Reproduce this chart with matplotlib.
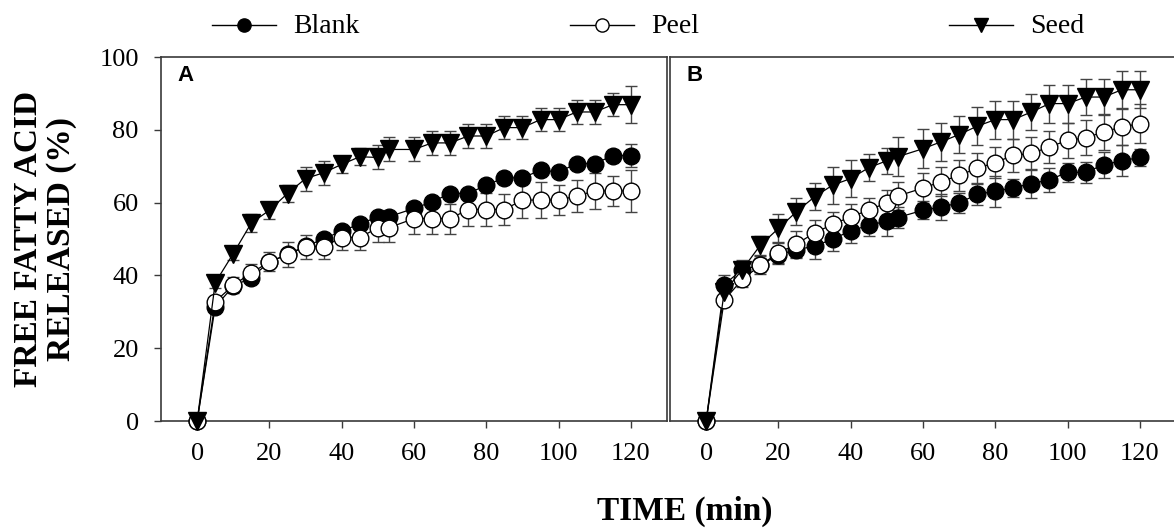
import matplotlib
matplotlib.use("Agg")
import matplotlib.pyplot as plt
from matplotlib.lines import Line2D

plt.rcParams['font.family'] = ['Liberation Serif', 'DejaVu Serif']

# ---------------- data ----------------
time = [0, 5, 10, 15, 20, 25, 30, 35, 40, 45, 50, 53, 60, 65, 70, 75, 80, 85, 90, 95, 100, 105, 110, 115, 120]

a_blank = [0, 31.4, 37.0, 39.4, 43.7, 45.8, 48.0, 50.0, 52.2, 54.1, 56.1, 56.1, 58.4, 60.2, 62.5, 62.5,
           64.8, 66.8, 66.8, 68.9, 68.4, 70.7, 70.7, 72.9, 72.9]
a_blank_err = [0, 1.0, 1.0, 1.0, 1.0, 1.0, 1.0, 1.0, 1.0, 1.0, 1.2, 1.2, 1.2, 1.2, 1.2, 1.2,
               1.2, 1.2, 1.2, 1.2, 1.2, 1.5, 1.5, 1.5, 3.1]
a_peel = [0, 32.8, 37.3, 40.7, 43.7, 45.7, 47.9, 47.9, 50.4, 50.4, 53.1, 53.1, 55.6, 55.6, 55.6, 58.1,
          58.1, 58.1, 60.7, 60.7, 60.7, 61.8, 63.2, 63.2, 63.2]
a_peel_err = [0, 1.0, 2.2, 2.5, 2.6, 3.4, 3.3, 3.3, 3.3, 3.3, 3.9, 3.9, 4.1, 4.1, 4.1, 4.5,
              4.5, 4.2, 4.9, 4.9, 4.0, 4.5, 5.0, 4.2, 5.7]
a_seed = [0, 38.0, 46.0, 54.4, 57.9, 62.5, 66.6, 68.2, 70.5, 72.6, 72.4, 74.6, 74.6, 76.4, 76.4, 78.3,
          78.3, 80.6, 80.6, 82.8, 82.8, 84.9, 84.9, 86.9, 86.9]
a_seed_err = [0, 1.5, 1.7, 2.4, 2.3, 2.3, 3.3, 3.3, 2.4, 2.4, 3.3, 3.3, 3.3, 3.2, 3.2, 3.3,
              3.3, 3.2, 3.2, 3.2, 3.2, 3.2, 3.2, 3.2, 5.1]

b_blank = [0, 37.5, 41.6, 42.8, 45.6, 47.1, 48.0, 50.0, 52.2, 53.8, 54.9, 55.9, 57.9, 58.8, 59.9, 62.3,
           63.1, 64.1, 65.2, 66.3, 68.3, 68.3, 70.4, 71.5, 72.4]
b_blank_err = [0, 2.5, 1.7, 2.0, 2.3, 2.4, 3.4, 3.3, 3.4, 2.9, 4.2, 3.0, 2.5, 3.6, 2.8, 3.0,
               4.2, 2.5, 4.0, 3.3, 2.6, 2.8, 3.6, 4.3, 2.3]
b_peel = [0, 33.2, 38.9, 42.8, 46.2, 48.6, 51.7, 54.0, 56.1, 57.9, 60.0, 61.8, 64.0, 65.7, 67.5, 69.4,
          71.0, 73.0, 73.5, 75.3, 77.1, 77.8, 79.4, 80.8, 81.7]
b_peel_err = [0, 1.5, 2.0, 2.5, 3.0, 3.5, 3.5, 3.5, 3.5, 3.5, 3.5, 3.8, 4.0, 4.0, 4.2, 4.3,
              4.3, 4.5, 4.5, 4.5, 4.8, 4.8, 5.0, 5.0, 5.3]
b_seed = [0, 35.5, 41.6, 48.3, 52.9, 57.5, 61.6, 64.8, 66.6, 69.6, 71.5, 72.6, 74.8, 76.7, 78.7, 81.0,
          82.8, 82.8, 84.9, 87.2, 87.2, 89.0, 89.0, 91.0, 91.0]
b_seed_err = [0, 1.5, 2.5, 2.6, 4.1, 3.7, 3.7, 5.1, 5.0, 3.7, 3.6, 5.4, 5.3, 5.2, 5.2, 5.2,
              5.2, 5.2, 5.0, 5.2, 5.2, 5.0, 5.0, 5.1, 5.1]

series_names = ['Blank', 'Peel', 'Seed']
x_ticks = [0, 20, 40, 60, 80, 100, 120]
y_ticks = [0, 20, 40, 60, 80, 100]
panel_labels = ['A', 'B']

# ---------------- styles ----------------
styles = {
    'Blank': dict(marker='o', mfc='black', mec='black', ms=12),
    'Peel': dict(marker='o', mfc='white', mec='black', ms=12),
    'Seed': dict(marker='v', mfc='black', mec='black', ms=12.5),
}
spine_c = '#3a3a3a'
err_c = '#444444'

W, H = 1174, 532
fig = plt.figure(figsize=(W / 100, H / 100), dpi=100)

axA = fig.add_axes([161 / W, 1 - 421 / H, (667 - 161) / W, (421 - 57) / H])
axB = fig.add_axes([670 / W, 1 - 421 / H, (1176 - 670) / W, (421 - 57) / H])

panels = [
    (axA, [(a_blank, a_blank_err), (a_peel, a_peel_err), (a_seed, a_seed_err)]),
    (axB, [(b_blank, b_blank_err), (b_peel, b_peel_err), (b_seed, b_seed_err)]),
]

for i, (ax, data) in enumerate(panels):
    for name, (vals, errs) in zip(series_names, data):
        st = styles[name]
        ax.errorbar(time, vals, yerr=errs, fmt='-', color='black', lw=0.9,
                    marker=st['marker'], ms=st['ms'], mfc=st['mfc'], mec=st['mec'], mew=1.0,
                    ecolor=err_c, elinewidth=1.0, capsize=4.5, capthick=1.0,
                    clip_on=False, zorder=3)
    ax.set_xlim(-10, 130)
    ax.set_ylim(0, 100)
    ax.set_xticks(x_ticks)
    ax.set_yticks(y_ticks)
    ax.tick_params(axis='both', direction='out', length=5, width=1, color=spine_c,
                   labelsize=19, pad=11)
    for sp in ax.spines.values():
        sp.set_color(spine_c)
        sp.set_linewidth(1.2)
    ax.text(0.033, 0.978, panel_labels[i], transform=ax.transAxes, ha='left', va='top',
            fontsize=16, fontweight='bold', family=['Liberation Sans', 'DejaVu Sans'])

axB.tick_params(axis='y', left=False, labelleft=False)
axB.spines['right'].set_visible(False)

# axis titles
fig.text(685 / W, 1 - 520 / H, 'TIME (min)', ha='center', va='baseline',
         fontsize=24, fontweight='bold')
fig.text(45 / W, 1 - 239 / H, 'FREE FATTY ACID\nRELEASED (%)', ha='center', va='center',
         rotation=90, fontsize=24, fontweight='bold', multialignment='center', linespacing=1.1)

# legend drawn manually at top
leg_x = [212, 570, 949]
leg_y = 25
for name, lx in zip(series_names, leg_x):
    st = styles[name]
    yf = 1 - leg_y / H
    fig.add_artist(Line2D([lx / W, (lx + 64) / W], [yf, yf], transform=fig.transFigure,
                          color='black', lw=1.0))
    fig.add_artist(Line2D([(lx + 32) / W], [yf], transform=fig.transFigure,
                          marker=st['marker'], ms=9.5, mfc=st['mfc'], mec='black', mew=1.0,
                          linestyle='none'))
    fig.text((lx + 81) / W, 1 - 33 / H, name, ha='left', va='baseline', fontsize=20)

fig.savefig('out.png', dpi=100)
